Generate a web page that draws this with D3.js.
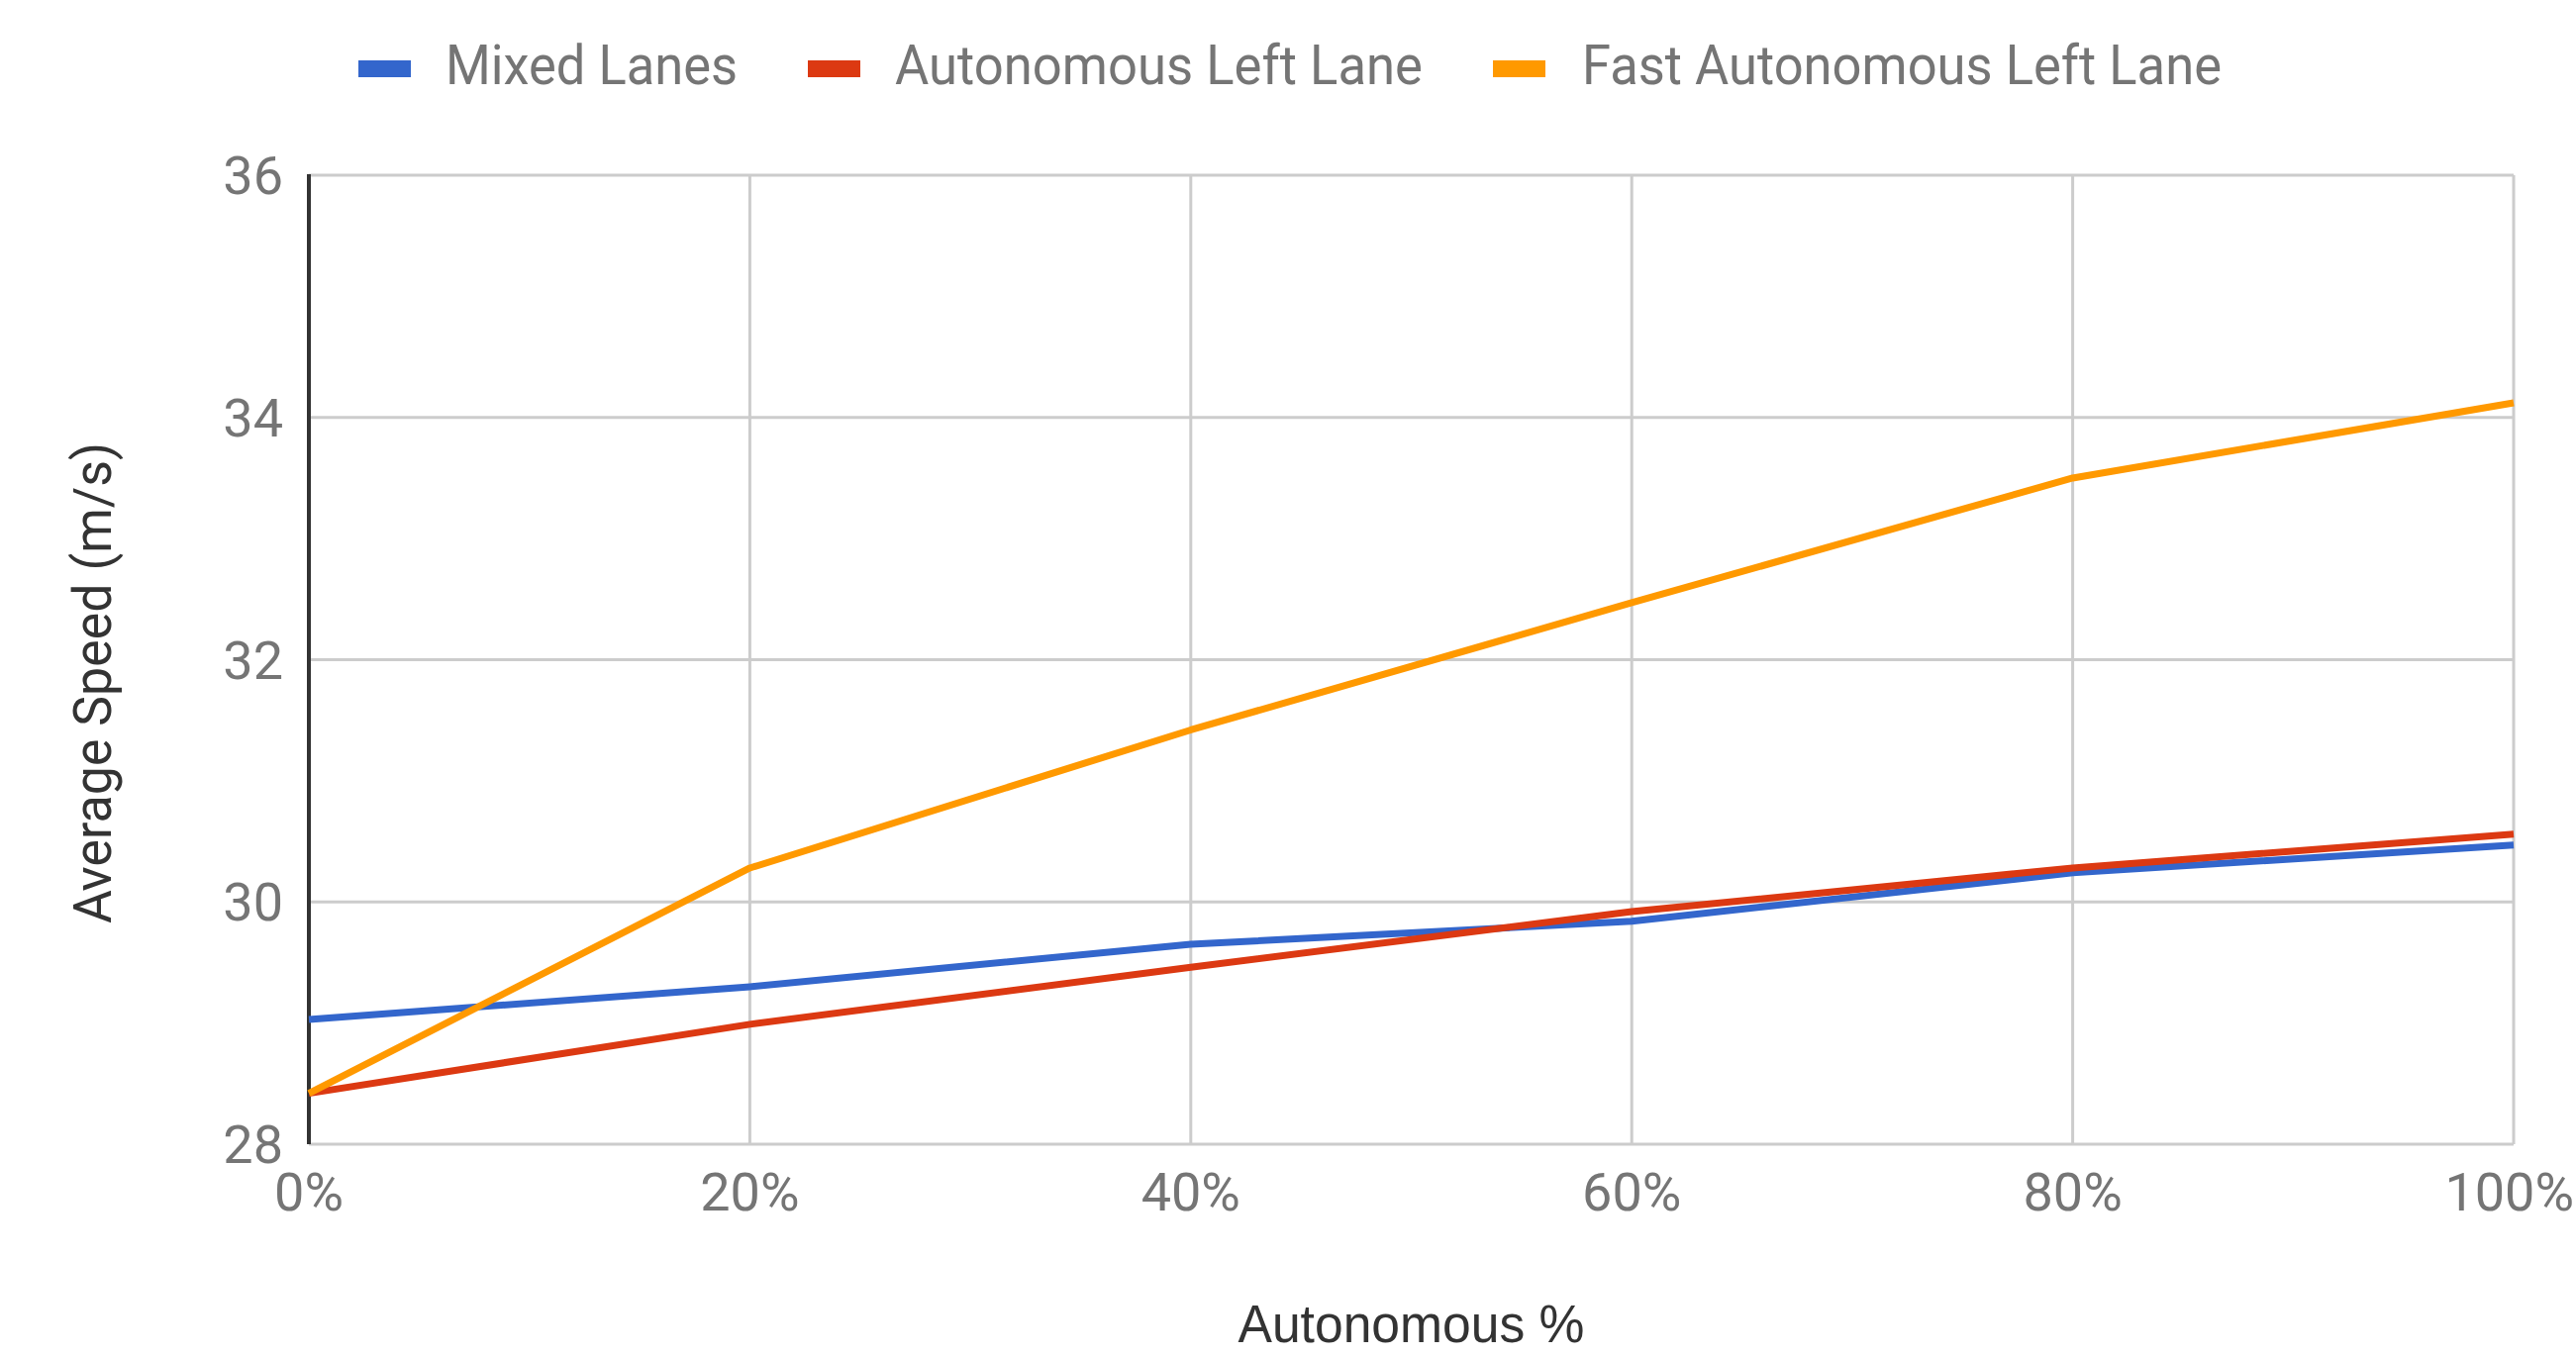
<!DOCTYPE html>
<html>
<head>
<meta charset="utf-8">
<script src="https://cdn.jsdelivr.net/npm/d3@7"></script>
<style>
html,body{margin:0;padding:0;background:#fff;}
svg{display:block;}
</style>
</head>
<body>
<svg id="chart" width="2602" height="1370"></svg>
<script>
const categories = [0, 20, 40, 60, 80, 100];
const xTickLabels = ["0%", "20%", "40%", "60%", "80%", "100%"];
const yTicks = [28, 30, 32, 34, 36];
const seriesNames = ["Mixed Lanes", "Autonomous Left Lane", "Fast Autonomous Left Lane"];
const mixedLanes = [29.03, 29.30, 29.65, 29.84, 30.24, 30.47];
const autonomousLeftLane = [28.42, 28.99, 29.46, 29.92, 30.28, 30.56];
const fastAutonomousLeftLane = [28.42, 30.28, 31.42, 32.47, 33.50, 34.12];
const colors = ["#3366cc", "#dc3912", "#ff9900"];

(function () {
const svg = d3.select("#chart");
const pLeft = 312, pRight = 2539, pTop = 177, pBottom = 1156;
const x = d3.scaleLinear().domain([0, 100]).range([pLeft, pRight]);
const y = d3.scaleLinear().domain([28, 36]).range([pBottom, pTop]);

// horizontal gridlines
svg.append("g").selectAll("line").data(yTicks).join("line")
  .attr("x1", pLeft).attr("x2", pRight)
  .attr("y1", d => y(d)).attr("y2", d => y(d))
  .attr("stroke", "#cccccc").attr("stroke-width", 3);
// vertical gridlines
svg.append("g").selectAll("line").data(categories.slice(1)).join("line")
  .attr("x1", d => x(d)).attr("x2", d => x(d))
  .attr("y1", pTop).attr("y2", pBottom)
  .attr("stroke", "#cccccc").attr("stroke-width", 3);
// left axis line
svg.append("line").attr("x1", pLeft).attr("x2", pLeft).attr("y1", pTop - 1).attr("y2", pBottom)
  .attr("stroke", "#333333").attr("stroke-width", 4);

// y tick labels
svg.append("g").selectAll("text").data(yTicks).join("text")
  .attr("x", 286).attr("y", d => y(d) + 19)
  .attr("text-anchor", "end")
  .attr("font-family", "Roboto, Arial, sans-serif").attr("font-size", 54)
  .attr("fill", "#757575").text(d => d);

// x tick labels (last one kept just inside the page edge)
svg.append("g").selectAll("text").data(categories).join("text")
  .attr("x", (d, i) => i === categories.length - 1 ? 2600 : x(d)).attr("y", 1223)
  .attr("text-anchor", (d, i) => i === categories.length - 1 ? "end" : "middle")
  .attr("font-family", "Roboto, Arial, sans-serif").attr("font-size", 54)
  .attr("fill", "#757575").text((d, i) => xTickLabels[i]);

// lines
const allSeries = [mixedLanes, autonomousLeftLane, fastAutonomousLeftLane];
const line = d3.line().x((d, i) => x(categories[i])).y(d => y(d));
allSeries.forEach((s, k) => {
  svg.append("path").datum(s)
    .attr("d", line)
    .attr("fill", "none")
    .attr("stroke", colors[k])
    .attr("stroke-width", 7)
    .attr("stroke-linejoin", "round");
});

// legend
const legendSwatchX = [362, 816, 1508];
const legendTextX = [450, 904, 1598];
const legendTextW = [295, 533, 646];
const lg = svg.append("g");
seriesNames.forEach((name, i) => {
  lg.append("rect").attr("x", legendSwatchX[i]).attr("y", 61).attr("width", 53).attr("height", 17)
    .attr("fill", colors[i]);
  lg.append("text").attr("x", legendTextX[i]).attr("y", 85)
    .attr("font-family", "Roboto, Arial, sans-serif").attr("font-size", 56)
    .attr("fill", "#757575")
    .attr("textLength", legendTextW[i]).attr("lengthAdjust", "spacingAndGlyphs")
    .text(name);
});

// axis titles
svg.append("text").attr("x", (pLeft + pRight) / 2).attr("y", 1356)
  .attr("text-anchor", "middle")
  .attr("font-family", "'Liberation Sans', Arial, sans-serif").attr("font-size", 54)
  .attr("fill", "#333333")
  .attr("textLength", 350).attr("lengthAdjust", "spacingAndGlyphs")
  .text("Autonomous %");

svg.append("text")
  .attr("transform", "translate(112,690) rotate(-90)")
  .attr("text-anchor", "middle")
  .attr("font-family", "Roboto, Arial, sans-serif").attr("font-size", 53)
  .attr("fill", "#333333")
  .attr("textLength", 486).attr("lengthAdjust", "spacingAndGlyphs")
  .text("Average Speed (m/s)");
})();
</script>
</body>
</html>
